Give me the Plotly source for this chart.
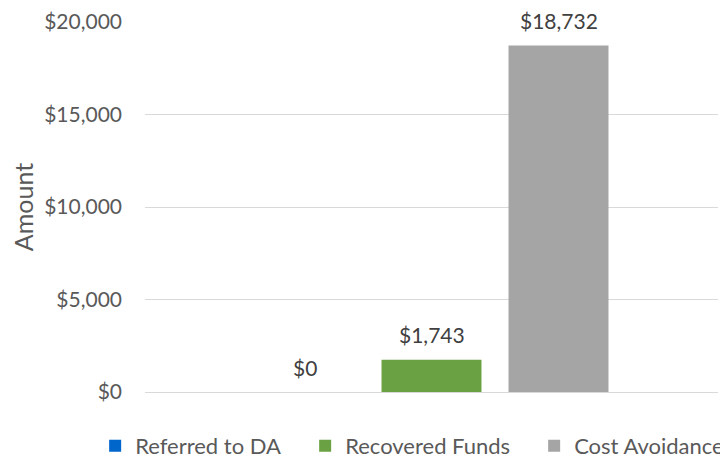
import plotly.graph_objects as go

categories = ["Total"]
series_names = ["Referred to DA", "Recovered Funds", "Cost Avoidance"]
series_values = [[0], [1743], [18732]]
series_colors = ["#0066CC", "#6AA142", "#A5A5A5"]
legend_widths = [165, 184, 160]
tick_vals = [0, 5000, 10000, 15000, 20000]
tick_text = ["$0", "$5,000", "$10,000", "$15,000", "$20,000"]

fig = go.Figure()
n = len(series_names)
for i, (name, vals, color, lw) in enumerate(zip(series_names, series_values, series_colors, legend_widths)):
    fig.add_trace(go.Bar(
        x=categories, y=vals, name=name, marker_color=color,
        marker_line_width=0, legendwidth=lw,
    ))
    for c, v in zip(categories, vals):
        fig.add_annotation(
            x=c, y=v, text=f"${v:,}", showarrow=False,
            xshift=(i - (n - 1) / 2) * 127, yshift=25, yanchor="middle",
            font=dict(size=21, color="#404040", family="Lato"),
        )

fig.update_layout(
    width=720, height=452,
    margin=dict(l=137, r=10, t=14, b=68, autoexpand=False),
    paper_bgcolor="white", plot_bgcolor="white",
    font=dict(family="Lato", size=21, color="#595959"),
    barmode="group", bargap=0.335, bargroupgap=0.213,
    showlegend=True,
    legend=dict(orientation="h", x=-0.087, xanchor="left", y=-0.089, yanchor="top",
                font=dict(size=22, color="#595959"), itemwidth=30),
    xaxis=dict(type="category", showticklabels=False, showline=False, showgrid=False,
               zeroline=False, automargin=False),
    yaxis=dict(range=[0, 20000], tickvals=tick_vals, ticktext=tick_text,
               showgrid=True, gridcolor="#D9D9D9", gridwidth=1.3,
               zeroline=True, zerolinecolor="#D9D9D9", zerolinewidth=1.3,
               ticks="", ticklabelstandoff=22, automargin=False,
               title=dict(text="Amount", font=dict(size=25, color="#595959"), standoff=22)),
)
fig.write_html("out.html")
